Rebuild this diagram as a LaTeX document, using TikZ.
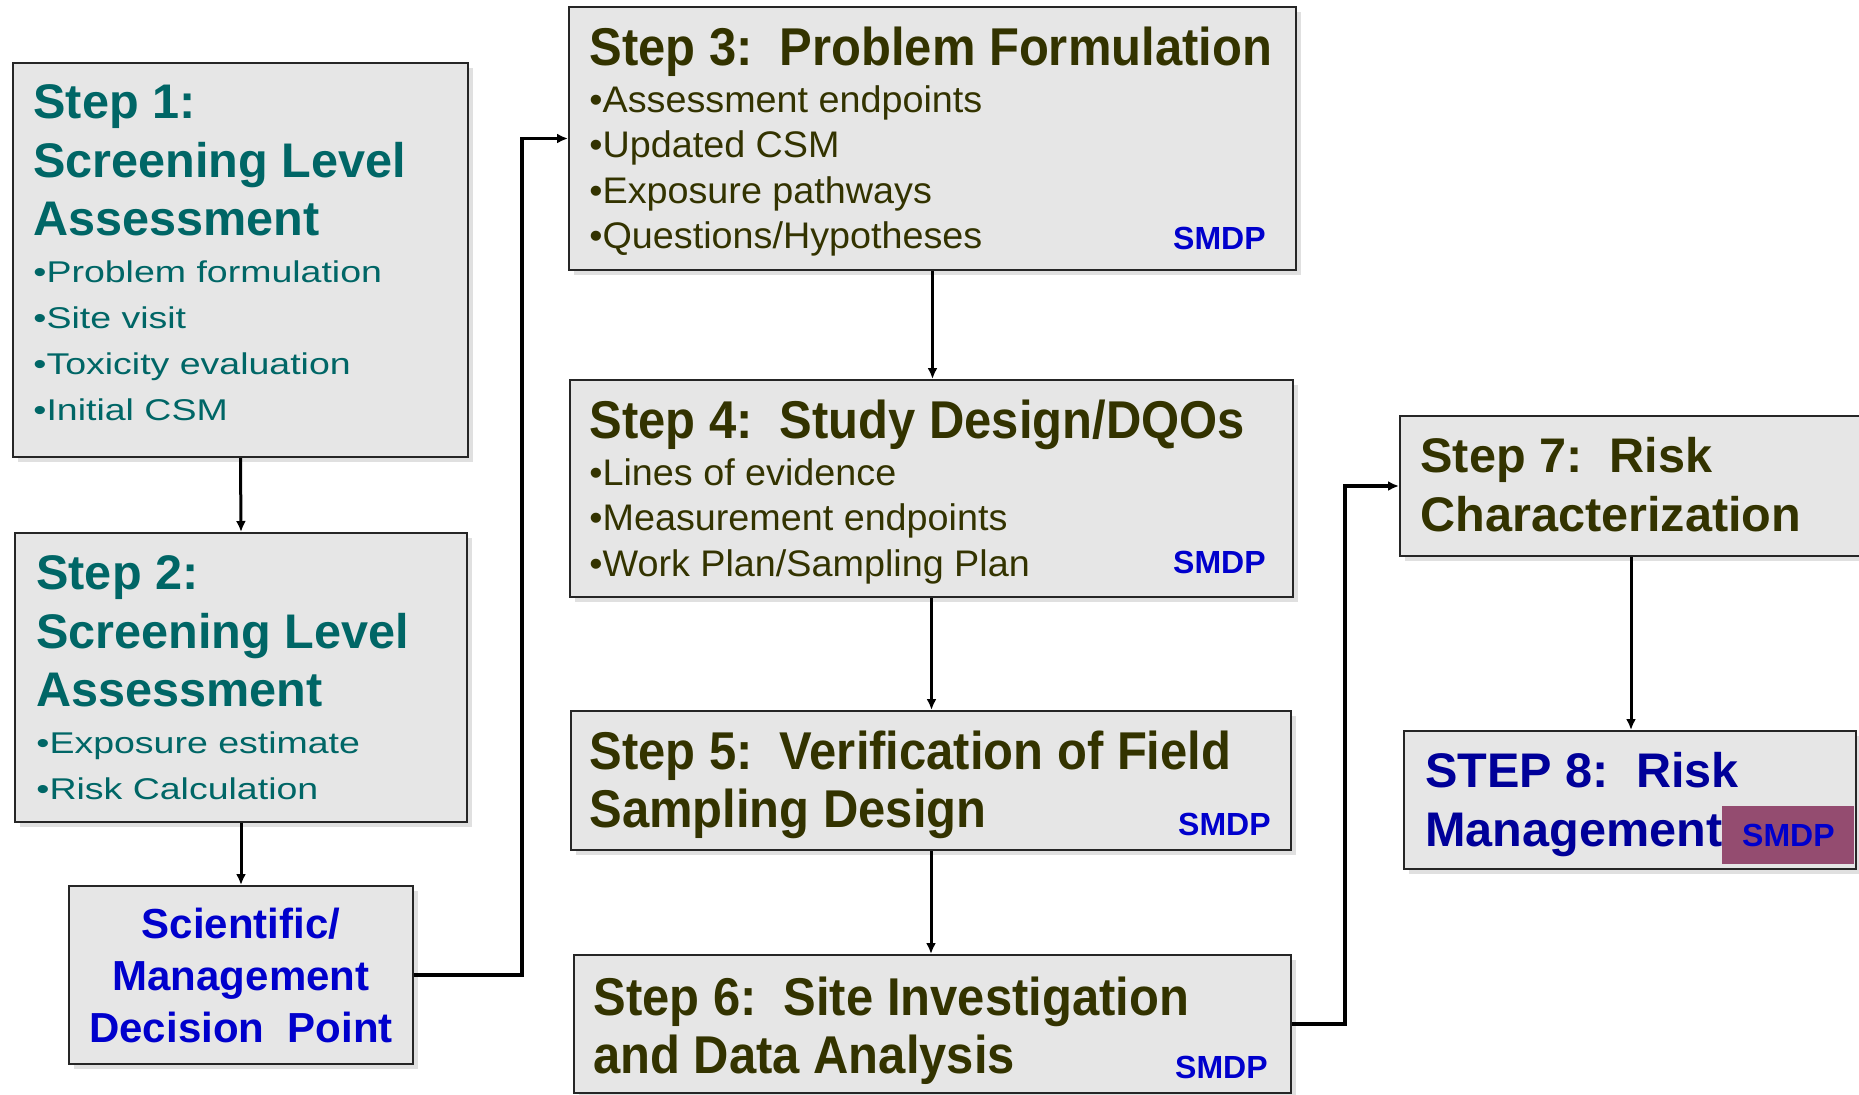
\documentclass[tikz,border=0pt]{standalone}
\usepackage{xcolor}
\usepackage{fontspec}
\setmainfont{Liberation Sans}
\newfontfamily\widefont[FakeStretch=1.25]{Liberation Sans}
\newfontfamily\bulfont[FakeStretch=1.02]{Liberation Sans}
\newfontfamily\narrowfont[FakeStretch=0.92]{Liberation Sans}
\usepackage{tikz}
\usetikzlibrary{arrows.meta,shadows}

\definecolor{tealtxt}{RGB}{0,102,102}
\definecolor{olivetxt}{RGB}{51,51,0}
\definecolor{smdpblue}{RGB}{0,0,204}
\definecolor{navytxt}{RGB}{0,0,153}
\definecolor{boxfill}{RGB}{230,230,230}
\definecolor{plum}{RGB}{148,76,112}

\begin{document}
\begin{tikzpicture}[x=0.5pt,y=-0.5pt,
  box/.style={draw=black!85, line width=1pt, fill=boxfill, inner sep=0pt, anchor=north west,
    drop shadow={shadow xshift=2.5pt, shadow yshift=-2.5pt, fill=black!12, opacity=1}},
  ttl/.style={anchor=north west, inner sep=0pt, align=left, font=\fontsize{24.3}{29.4}\selectfont\bfseries},
  ttlnarrow/.style={anchor=north west, inner sep=0pt, align=left, font=\narrowfont\fontsize{26.6}{29}\selectfont\bfseries},
  bulwide/.style={anchor=north west, inner sep=0pt, align=left, font=\widefont\fontsize{15}{23}\selectfont},
  bulnarrow/.style={anchor=north west, inner sep=0pt, align=left, font=\bulfont\fontsize{18.5}{22.6}\selectfont},
  tag/.style={anchor=base east, inner sep=0pt, text=smdpblue, font=\fontsize{16}{16}\selectfont\bfseries},
  conn/.style={line width=1.5pt, -{Latex[length=5.5pt,width=5pt]}},
  elbow/.style={line width=1.7pt, -{Latex[length=5.5pt,width=5pt]}}]
\useasboundingbox (0,0) rectangle (1859,1094);

% boxes
\node[box, minimum width=227.5pt, minimum height=197pt]   (s1)   at (12,62)   {};
\node[box, minimum width=226pt,   minimum height=144.5pt] (s2)   at (14,532)  {};
\node[box, minimum width=172pt,   minimum height=89pt]    (smdp) at (68,885)  {};
\node[box, minimum width=363.5pt, minimum height=131.5pt] (s3)   at (568,6)   {};
\node[box, minimum width=361.5pt, minimum height=108.5pt] (s4)   at (569,379) {};
\node[box, minimum width=360pt,   minimum height=69.5pt]  (s5)   at (570,710) {};
\node[box, minimum width=358.5pt, minimum height=69pt]    (s6)   at (573,954) {};
\node[box, minimum width=231pt,   minimum height=70pt]    (s7)   at (1399,415) {};
\node[box, minimum width=226pt,   minimum height=69pt]    (s8)   at (1403,730) {};

% step 1 and 2
\node[ttl, text=tealtxt] (s1title) at (33,84) {Step 1:\\Screening Level\\Assessment};
\node[bulwide, text=tealtxt] (s1list) at (33,260) {•Problem formulation\\•Site visit\\•Toxicity evaluation\\•Initial CSM};
\node[ttl, text=tealtxt] (s2title) at (36,555) {Step 2:\\Screening Level\\Assessment};
\node[bulwide, text=tealtxt] (s2list) at (36,731) {•Exposure estimate\\•Risk Calculation};
\node[align=center, inner sep=0pt, text=smdpblue, font=\fontsize{21}{26}\selectfont\bfseries] (smdptext) at (smdp.center)
  {Scientific/\\Management\\Decision~~Point};

% steps 3 to 6
\node[ttlnarrow, text=olivetxt] (s3title) at (589,27) {Step 3:~~Problem Formulation};
\node[bulnarrow, text=olivetxt] (s3list) at (589,85.5) {•Assessment endpoints\\•Updated CSM\\•Exposure pathways\\•Questions/Hypotheses};
\node[tag] (s3tag) at (1266,249) {SMDP};
\node[ttlnarrow, text=olivetxt] (s4title) at (589,400) {Step 4:~~Study Design/DQOs};
\node[bulnarrow, text=olivetxt] (s4list) at (589,458.5) {•Lines of evidence\\•Measurement endpoints\\•Work Plan/Sampling Plan};
\node[tag] (s4tag) at (1266,573) {SMDP};
\node[ttlnarrow, text=olivetxt] (s5title) at (589,731) {Step 5:~~Verification of Field\\Sampling Design};
\node[tag] (s5tag) at (1271,835) {SMDP};
\node[ttlnarrow, text=olivetxt] (s6title) at (593,977) {Step 6:~~Site Investigation\\and Data Analysis};
\node[tag] (s6tag) at (1268,1078) {SMDP};

% steps 7 and 8
\node[ttl, text=olivetxt] (s7title) at (1420,437) {Step 7:~~Risk\\Characterization};
\node[ttl, text=navytxt] (s8title) at (1425,752) {STEP 8:~~Risk\\Management};
\node[fill=plum, anchor=north west, inner sep=0pt, minimum width=66pt, minimum height=29pt,
  text=smdpblue, font=\fontsize{16}{16}\selectfont\bfseries] (s8tag) at (1722,806) {SMDP};

% connectors
\draw[conn] (s1.south) -- (s2.north);
\draw[conn] (s2.south) -- (smdp.north);
\draw[elbow] (smdp.east) -- ++(108,0) |- (s3.west);
\draw[conn] (s3.south) -- (s3.south |- s4.north);
\draw[conn] (s4.south) -- (s4.south |- s5.north);
\draw[conn] (s5.south) -- (s5.south |- s6.north);
\draw[elbow] (s6.east) -- ++(53,0) |- (s7.west);
\draw[conn] (s7.south) -- (s7.south |- s8.north);

\end{tikzpicture}
\end{document}
